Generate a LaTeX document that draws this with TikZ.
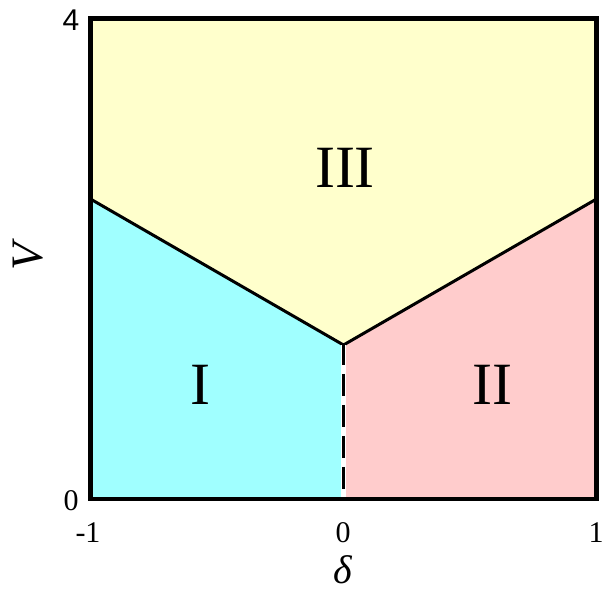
\documentclass[tikz,border=0pt]{standalone}
\usepackage{fontspec}
\setmainfont{Liberation Serif}
\newfontfamily\axsans{Liberation Sans}
\definecolor{regcyan}{HTML}{A0FFFF}
\definecolor{regyellow}{HTML}{FFFFCC}
\definecolor{regpink}{HTML}{FFCCCC}
\begin{document}
\begin{tikzpicture}[x=1pt,y=-1pt,
  boundary/.style={line width=3pt,line join=miter},
  regionlabel/.style={font=\fontsize{60}{60}\selectfont,inner sep=0pt},
  ticklabel/.style={font=\fontsize{30}{30}\selectfont,inner sep=0pt},
  axislabel/.style={font=\fontsize{45}{45}\selectfont\itshape,inner sep=0pt}]
\useasboundingbox (0,0) rectangle (603,593);
\coordinate (BL) at (90.5,499);
\coordinate (BR) at (596.5,499);
\coordinate (TL) at (90.5,18.5);
\coordinate (TR) at (596.5,18.5);
\coordinate (LM) at (90.5,199);
\coordinate (RM) at (596.5,199);
\coordinate (AP) at (343.5,345);
\coordinate (BM) at (343.5,499);
% regions
\fill[regyellow] (TL) -- (TR) -- (RM) -- (AP) -- (LM) -- cycle;
\fill[regcyan] (LM) -- (AP) -- (BM) -- (BL) -- cycle;
\fill[regpink] (RM) -- (AP) -- (BM) -- (BR) -- cycle;
% boundaries
\draw[boundary] (LM) -- (AP) -- (RM);
\draw[white,line width=4.5pt] (AP) -- (BM);
\draw[line width=3pt,dash pattern=on 22pt off 9pt] ([yshift=2pt]AP) -- (BM);
% frame
\draw[line width=4.5pt,line join=miter] (TL) rectangle (BR);
% region labels
\node[regionlabel] (r3) at (345,168) {III};
\node[regionlabel] (r1) at (200,385) {I};
\node[regionlabel] (r2) at (492,385) {II};
% ticks
\node[ticklabel,font=\fontsize{30}{30}\selectfont\axsans] (t4) at (71,20) {4};
\node[ticklabel] (t0) at (71,501) {0};
\node[ticklabel] (xm1) at (88,533) {-1};
\node[ticklabel] (x0) at (343,533) {0};
\node[ticklabel] (x1) at (596,533) {1};
% axis labels
\node[axislabel,rotate=90] (V) at (28,257) {V};
\node[axislabel,font=\fontsize{40}{40}\selectfont\itshape] (d) at (343,570) {δ};
\end{tikzpicture}
\end{document}
